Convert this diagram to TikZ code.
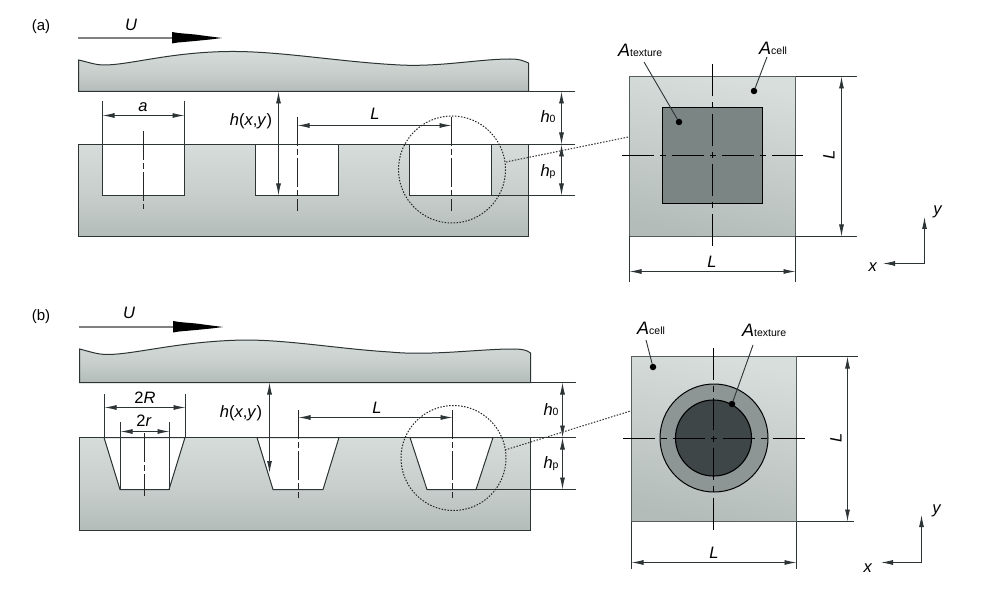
\documentclass[tikz,border=0pt]{standalone}
\usepackage{fontspec}
\setmainfont{Liberation Sans}
\usetikzlibrary{arrows.meta}
\definecolor{lineC}{HTML}{2C3436}
\definecolor{blockTop}{HTML}{D6DCDA}
\definecolor{blockBot}{HTML}{B4BCBA}
\definecolor{texA}{HTML}{7A8584}
\definecolor{ringB}{HTML}{8E9695}
\definecolor{coreB}{HTML}{3E4648}
\tikzset{
  x=1pt,y=-1pt,
  outline/.style={draw=lineC,line width=1pt},
  solidblock/.style={outline,top color=blockTop,bottom color=blockBot,middle color=blockTop!60!blockBot},
  squareblock/.style={draw=lineC!80!white,line width=1.1pt,top color=blockTop!95!white,bottom color=blockBot,shading angle=-12},
  thin line/.style={draw=lineC,line width=0.9pt},
  centre line/.style={draw=black!85,line width=1pt,dash pattern=on 29pt off 3pt on 6pt off 3pt},
  axis line/.style={draw=black,line width=1.15pt,dash pattern=on 32pt off 6pt on 6pt off 6pt,dash phase=41pt},
  dim/.style={thin line,{Latex[length=12pt,width=5pt]}-{Latex[length=12pt,width=5pt]}},
  dimend/.style={thin line,-{Latex[length=12pt,width=5pt]}},
  leader/.style={draw=lineC,line width=0.9pt},
  zoomcircle/.style={draw=black!85,line width=1pt,dash pattern=on 1.5pt off 1.5pt},
  zoomline/.style={draw=black!75,line width=1.1pt,dash pattern=on 1.5pt off 1.5pt},
  lab/.style={inner sep=0pt,font=\fontsize{16.5}{18}\selectfont},
  biglab/.style={inner sep=0pt,font=\fontsize{18}{20}\selectfont},
  dotmark/.style={circle,fill=black,inner sep=0pt,minimum size=6.5pt},
  wedge/.style={fill=black,draw=none}
}
\newcommand{\ital}[1]{\textit{#1}}
\newcommand{\subs}[1]{{\fontsize{10.5}{11}\selectfont #1}}
\begin{document}
\begin{tikzpicture}
\useasboundingbox (0,0) rectangle (984,593);
\fill[white] (0,0) rectangle (984,593);

% ============ panel (a)
\node[lab,font=\fontsize{15}{17}\selectfont] (labA) at (41,27) {(a)};
\draw[draw=black!50,line width=1.3pt] (78,38) -- (172,38);
\fill[wedge] (172,32) -- (178,33) -- (195,34.5) -- (210,36.5) -- (222,38) -- (210,39.5) -- (195,41) -- (178,42.5) -- (172,43.5) -- cycle;
\node[lab] (uA) at (131,25) {\ital{U}};

\path[solidblock] (78.5,60) .. controls (88,62) and (95,65) .. (104,65) .. controls (130,65) and (170,52) .. (230,51.5) .. controls (280,51) and (340,62) .. (400,65) .. controls (440,67) and (480,59) .. (510,59) .. controls (520,59) and (524,61) .. (528.5,63) -- (528.5,91.5) -- (78.5,91.5) -- cycle;
\path[solidblock] (78.5,144.5) rectangle (528.5,236.5);
\path[fill=white,outline] (102.5,144.5) rectangle (184.5,195.5);
\path[fill=white,outline] (255.5,144.5) rectangle (338.5,195.5);
\path[fill=white,outline] (409.5,144.5) rectangle (491.5,195.5);
\draw[outline] (78.5,144.5) -- (528.5,144.5);

\draw[centre line] (143.5,131) -- (143.5,209);
\draw[centre line] (297.5,117) -- (297.5,211);
\draw[centre line] (451.5,117) -- (451.5,211);

\draw[thin line] (102.5,101) -- (102.5,144.5);
\draw[thin line] (184.5,101) -- (184.5,144.5);
\draw[dim] (102.5,115.5) -- (184.5,115.5);
\node[lab] (aLab) at (143,107) {\ital{a}};

\coordinate (hxa0) at (278.5,91.5);
\coordinate (hxa1) at (278.5,195.5);
\draw[dim] (hxa0) -- (hxa1);
\node[lab] (hxyA) at (251,121) {\ital{h}(\ital{x},\ital{y})};

\draw[dim] (297.5,125.5) -- (451.5,125.5);
\node[lab] (LA) at (375,114) {\ital{L}};

\draw[thin line] (528.5,91.5) -- (575,91.5);
\draw[thin line] (528.5,144.5) -- (575,144.5);
\draw[thin line] (491.5,195.5) -- (575,195.5);
\draw[dim] (561.5,91.5) -- (561.5,144.5);
\draw[dim] (561.5,144.5) -- (561.5,195.5);
\node[lab] (h0A) at (548,117) {\ital{h}\subs{0}};
\node[lab] (hpA) at (548,172) {\ital{h}\subs{p}};

\draw[zoomcircle] (452,169.5) circle (53.5);
\draw[zoomline] (506,162) -- (628.5,137);

\path[squareblock] (629.5,76.5) rectangle (795.5,236.5);
\path[fill=texA,draw=black,line width=1.2pt] (662.5,107.5) rectangle (762.5,203.5);
\draw[thin line] (795.5,76.5) -- (857,76.5);
\draw[thin line] (795.5,236.5) -- (857,236.5);
\draw[dim] (841.5,76.5) -- (841.5,236.5);
\draw[thin line] (629.5,236.5) -- (629.5,282);
\draw[thin line] (795.5,236.5) -- (795.5,282);
\draw[dim] (629.5,271.5) -- (795.5,271.5);
\draw[axis line] (712.5,155.5) -- (712.5,63);
\draw[axis line] (712.5,155.5) -- (712.5,246);
\draw[axis line] (712.5,155.5) -- (621,155.5);
\draw[axis line] (712.5,155.5) -- (803,155.5);
\node[lab] (LAb) at (712,262) {\ital{L}};
\node[lab,rotate=90] (LAr) at (829,155) {\ital{L}};
\node[biglab,anchor=west] (texA) at (618,50) {\ital{A}\subs{texture}};
\node[biglab,anchor=west] (celA) at (759,48) {\ital{A}\subs{cell}};
\node[dotmark] (dotTexA) at (679,122) {};
\node[dotmark] (dotCelA) at (754,91) {};
\draw[leader] (644,62) -- (dotTexA);
\draw[leader] (767,57) -- (dotCelA);

\coordinate (oa) at (924.5,263.5);
\coordinate (oax) at (883,263.5);
\coordinate (oay) at (924.5,217);
\draw[dimend] (oa) -- (oax);
\draw[dimend] (oa) -- (oay);
\node[lab] (xA) at (873,267) {\ital{x}};
\node[lab] (yA) at (938,212) {\ital{y}};

% ============ panel (b)
\node[lab,font=\fontsize{15}{17}\selectfont] (labB) at (41,317) {(b)};
\draw[draw=black!50,line width=1.3pt] (79,327) -- (173,327);
\fill[wedge] (173,321) -- (179,322) -- (196,323.5) -- (211,325.5) -- (223,327) -- (211,328.5) -- (196,330) -- (179,331.5) -- (173,332.5) -- cycle;
\node[lab] (uB) at (129,313) {\ital{U}};

\path[solidblock] (79.5,349) .. controls (88,351) and (97,354.5) .. (107,354.5) .. controls (135,354.5) and (180,341) .. (245,340) .. controls (290,340) and (340,349) .. (390,352) .. controls (430,356) and (480,349) .. (512,349) .. controls (522,349) and (527,350) .. (530.5,353) -- (530.5,382.5) -- (79.5,382.5) -- cycle;
\path[solidblock] (79.5,437.5) rectangle (530.5,530.5);
\path[fill=white,outline] (104,437.5) -- (120,489.5) -- (169,489.5) -- (185,437.5) -- cycle;
\path[fill=white,outline] (257,437.5) -- (273,489.5) -- (323,489.5) -- (339,437.5) -- cycle;
\path[fill=white,outline] (410,437.5) -- (427,489.5) -- (476,489.5) -- (493,437.5) -- cycle;
\draw[outline] (79.5,437.5) -- (530.5,437.5);

\draw[centre line] (144.5,433) -- (144.5,496);
\draw[centre line] (298.5,410) -- (298.5,498);
\draw[centre line] (452.5,410) -- (452.5,498);

\draw[thin line] (104.5,394) -- (104.5,437.5);
\draw[thin line] (185.5,394) -- (185.5,437.5);
\draw[dim] (104.5,407.5) -- (185.5,407.5);
\node[lab] (RLab) at (145,398) {2\ital{R}};
\draw[thin line] (120.5,422) -- (120.5,489.5);
\draw[thin line] (169.5,422) -- (169.5,489.5);
\draw[dim] (120.5,431.5) -- (169.5,431.5);
\node[lab] (rLab) at (144,421) {2\ital{r}};

\coordinate (hxb0) at (269.5,382.5);
\coordinate (hxb1) at (269.5,473);
\draw[dim] (hxb0) -- (hxb1);
\node[lab] (hxyB) at (241,413) {\ital{h}(\ital{x},\ital{y})};

\draw[dim] (298.5,417.5) -- (452.5,417.5);
\node[lab] (LB) at (377,408) {\ital{L}};

\draw[thin line] (530.5,382.5) -- (576,382.5);
\draw[thin line] (530.5,437.5) -- (576,437.5);
\draw[thin line] (476,489.5) -- (576,489.5);
\draw[dim] (562.5,382.5) -- (562.5,437.5);
\draw[dim] (562.5,437.5) -- (562.5,489.5);
\node[lab] (h0B) at (551,410) {\ital{h}\subs{0}};
\node[lab] (hpB) at (551,464) {\ital{h}\subs{p}};

\draw[zoomcircle] (453.5,458) circle (52.5);
\draw[zoomline] (505,450) -- (630.5,411);

\path[squareblock] (631.5,356.5) rectangle (796.5,521.5);
\path[fill=ringB,draw=black,line width=1pt] (714,438) circle (54);
\path[fill=coreB,draw=black,line width=1.1pt] (713.5,438) circle (38);
\draw[thin line] (796.5,356.5) -- (858,356.5);
\draw[thin line] (796.5,521.5) -- (854,521.5);
\draw[dim] (847.5,356.5) -- (847.5,521.5);
\draw[thin line] (631.5,521.5) -- (631.5,569);
\draw[thin line] (796.5,521.5) -- (796.5,569);
\draw[dim] (631.5,562.5) -- (796.5,562.5);
\draw[axis line] (713.5,438.5) -- (713.5,346);
\draw[axis line] (713.5,438.5) -- (713.5,533);
\draw[axis line] (713.5,438.5) -- (621,438.5);
\draw[axis line] (713.5,438.5) -- (810,438.5);
\node[lab] (LBb) at (714,553) {\ital{L}};
\node[lab,rotate=90] (LBr) at (836,438) {\ital{L}};
\node[biglab,anchor=west] (celB) at (637,328) {\ital{A}\subs{cell}};
\node[biglab,anchor=west] (texB) at (742,330) {\ital{A}\subs{texture}};
\node[dotmark] (dotCelB) at (653,367) {};
\node[dotmark] (dotTexB) at (732,404) {};
\draw[leader] (646,340) -- (dotCelB);
\draw[leader] (753,345) -- (dotTexB);

\coordinate (ob) at (921.5,562.5);
\coordinate (obx) at (881,562.5);
\coordinate (oby) at (921.5,515);
\draw[dimend] (ob) -- (obx);
\draw[dimend] (ob) -- (oby);
\node[lab] (xB) at (868,568) {\ital{x}};
\node[lab] (yB) at (937,511) {\ital{y}};
\end{tikzpicture}
\end{document}
